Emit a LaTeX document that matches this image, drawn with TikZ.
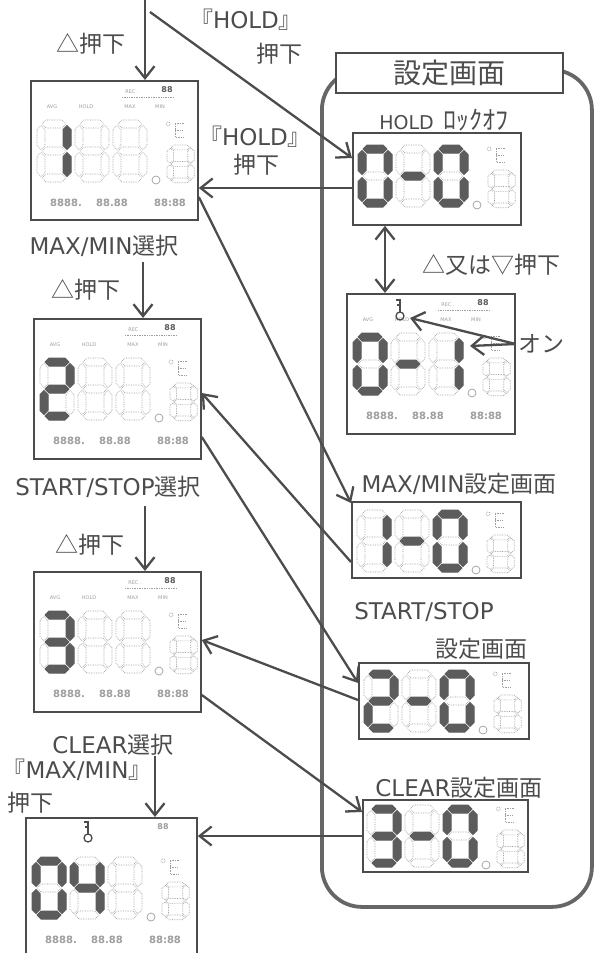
\documentclass[tikz,border=0pt]{standalone}
\usepackage{fontspec}
\setmainfont{DejaVu Sans}
\newfontfamily\jp{Noto Sans CJK JP}
\usetikzlibrary{arrows.meta}

\newlength{\du}
\setlength{\du}{1pt}

\definecolor{inkgray}{rgb}{0.30,0.30,0.30}
\definecolor{framegray}{rgb}{0.40,0.40,0.40}
\definecolor{seggray}{rgb}{0.36,0.36,0.36}
\definecolor{faintgray}{rgb}{0.62,0.62,0.62}

% one segment, drawn around its centre
\newcommand{\segH}{++(-12,0) -- ++(4,-4) -- ++(16,0) -- ++(4,4) -- ++(-4,4) -- ++(-16,0) -- cycle}
\newcommand{\segV}{++(0,-12) -- ++(4,4) -- ++(0,16) -- ++(-4,4) -- ++(-4,-4) -- ++(0,-16) -- cycle}

% seven segments a..g of one digit
\newcommand{\lcddigit}[8]{%
  \begin{scope}[shift={#1}]
    \path[#2] (17,4) \segH;
    \path[#3] (30,17.5) \segV;
    \path[#4] (30,44.5) \segV;
    \path[#5] (17,58) \segH;
    \path[#6] (4,44.5) \segV;
    \path[#7] (4,17.5) \segV;
    \path[#8] (17,31) \segH;
  \end{scope}}

% 0..4, 5 = minus, anything else = blank
\newcommand{\lcdnum}[2]{%
  \ifcase#2\relax
    \lcddigit{#1}{segon}{segon}{segon}{segon}{segon}{segon}{segoff}%
  \or\lcddigit{#1}{segoff}{segon}{segon}{segoff}{segoff}{segoff}{segoff}%
  \or\lcddigit{#1}{segon}{segon}{segoff}{segon}{segon}{segoff}{segon}%
  \or\lcddigit{#1}{segon}{segon}{segon}{segon}{segoff}{segoff}{segon}%
  \or\lcddigit{#1}{segoff}{segon}{segon}{segoff}{segoff}{segon}{segon}%
  \or\lcddigit{#1}{segoff}{segoff}{segoff}{segoff}{segoff}{segoff}{segon}%
  \else\lcddigit{#1}{segoff}{segoff}{segoff}{segoff}{segoff}{segoff}{segoff}%
  \fi}

% three big digits, point, unit mark and the small digit
\newcommand{\lcdface}[4]{%
  \begin{scope}[shift={#1}]
    \lcdnum{(0,0)}{#2}
    \lcdnum{(38,0)}{#3}
    \lcdnum{(76,0)}{#4}
    \draw[segoff, solid] (119,60) circle (4);
    \draw[segoff] (131,4) circle (2);
    \draw[segoff] (147,3) -- (138,3) -- (138,17) -- (147,17) (138,10) -- (145,10);
    \begin{scope}[shift={(130,25)}, xscale=0.8, yscale=0.61]
      \lcdnum{(0,0)}{9}
    \end{scope}
  \end{scope}}

% status line of the big display
\newcommand{\lcdtop}[1]{%
  \node[lcdtiny] (#1-avg) at (22,27) {AVG};
  \node[lcdtiny] (#1-hold) at (56,27) {HOLD};
  \node[lcdtiny] (#1-max) at (100,27) {MAX};
  \node[lcdtiny] (#1-min) at (130,27) {MIN};
  \node[lcdtiny] (#1-rec) at (102,12) {REC .};
  \draw[segoff] (92,17) -- (144,17);
  \node[lcdicon] (#1-ch) at (137,10) {88};}

% clock line of the big display
\newcommand{\lcdfoot}[1]{%
  \node[lcdrow] (#1-d) at (36,123) {8888.};
  \node[lcdrow] (#1-t) at (82,123) {88.88};
  \node[lcdrow] (#1-c) at (140,123) {88:88};}

% key mark
\newcommand{\lcdkey}[1]{%
  \begin{scope}[shift={#1}]
    \draw[inkgray, line width=1.3\du] (-4,-10) -- (0,-10) -- (0,2) (-3,-5) -- (0,-5);
    \draw[inkgray, line width=1.3\du] (0,6) circle (4);
  \end{scope}}

\tikzset{
  >={Straight Barb[length=12pt,width=19pt]},
  panel/.style={draw=inkgray, fill=white, line width=1.8\du, anchor=north west, inner sep=0pt},
  segon/.style={fill=seggray, draw=seggray, line width=1\du, line join=round},
  segoff/.style={draw=faintgray, line width=0.7\du, densely dotted},
  lcdtiny/.style={text=faintgray, font=\fontsize{5}{5}\selectfont, inner sep=0pt},
  lcdicon/.style={text=seggray, font=\fontsize{8}{8}\bfseries, inner sep=0pt},
  lcdrow/.style={text=faintgray, font=\fontsize{10}{10}\bfseries, inner sep=0pt},
  lbl/.style={text=inkgray, font=\fontsize{23}{27}\selectfont, inner sep=0pt},
  arr/.style={draw=inkgray, line width=2.3\du, ->},
  setframe/.style={draw=framegray, line width=3.8\du, rounded corners=40\du, anchor=north west},
  settitle/.style={draw=inkgray, fill=white, line width=1.8\du, font=\fontsize{28}{32}\selectfont\jp,
    text=inkgray, minimum width=227\du, minimum height=40\du},
}

\begin{document}
\begin{tikzpicture}[x=1\du, y=-1\du]
\useasboundingbox (0,0) rectangle (600,953);

% setting group
\node[setframe, minimum width=270\du, minimum height=837\du] (setbox) at (320,68) {};
\node[settitle] (ttl) at (449.5,73) {設定画面};

% displays on the left
\node[panel, minimum width=167\du, minimum height=139\du] (p1) at (30,80) {};
\begin{scope}[shift={(p1.north west)}]
  \lcdtop{p1} \lcdface{(7,40)}{1}{9}{9} \lcdfoot{p1}
\end{scope}
\node[panel, minimum width=167\du, minimum height=140\du] (p2) at (33,318) {};
\begin{scope}[shift={(p2.north west)}]
  \lcdtop{p2} \lcdface{(7,40)}{2}{9}{9} \lcdfoot{p2}
\end{scope}
\node[panel, minimum width=167\du, minimum height=140\du] (p3) at (33,571) {};
\begin{scope}[shift={(p3.north west)}]
  \lcdtop{p3} \lcdface{(7,40)}{3}{9}{9} \lcdfoot{p3}
\end{scope}
\node[panel, minimum width=171\du, minimum height=146\du] (p4) at (25,817) {};
\begin{scope}[shift={(p4.north west)}]
  \lcdkey{(63,15)}
  \node[lcdicon, text=faintgray] (p4-ch) at (138,10) {88};
  \lcdface{(7,40)}{0}{4}{9} \lcdfoot{p4}
\end{scope}

% displays in the setting group
\node[panel, minimum width=168\du, minimum height=92\du] (hold) at (352,132) {};
\begin{scope}[shift={(hold.north west)}]
  \lcdface{(6,13)}{0}{5}{0}
\end{scope}
\node[panel, minimum width=168\du, minimum height=140\du] (p01) at (346,293) {};
\begin{scope}[shift={(p01.north west)}]
  \lcdtop{p01} \lcdkey{(54,17)} \lcdface{(7,40)}{0}{5}{1} \lcdfoot{p01}
\end{scope}
\node[panel, minimum width=169\du, minimum height=76\du] (mm) at (351,501) {};
\begin{scope}[shift={(mm.north west)}]
  \lcdface{(6,9)}{1}{5}{0}
\end{scope}
\node[panel, minimum width=170\du, minimum height=76\du] (ss) at (358,662) {};
\begin{scope}[shift={(ss.north west)}]
  \lcdface{(6,8)}{2}{5}{0}
\end{scope}
\node[panel, minimum width=165\du, minimum height=72\du] (cl) at (362,799) {};
\begin{scope}[shift={(cl.north west)}]
  \lcdface{(5,6)}{3}{5}{0}
\end{scope}

% labels
\node[lbl] (hd1) at (91,44) {\jp △押下};
\node[lbl] (hk1) at (246,20) {{\jp 『}HOLD{\jp 』}};
\node[lbl] (hk1b) at (279,54) {\jp 押下};
\node[lbl, font=\fontsize{19}{22}\selectfont] (holdlbl) at (444,120) {HOLD\hspace{10pt}{\jp\fontsize{26}{26}\selectfont ﾛｯｸｵﾌ}};
\node[lbl] (hk2) at (255,137) {{\jp 『}HOLD{\jp 』}};
\node[lbl] (hk2b) at (256,165) {\jp 押下};
\node[lbl] (sel1) at (104,246) {MAX/MIN{\jp 選択}};
\node[lbl] (hd2) at (86,290) {\jp △押下};
\node[lbl] (updn) at (491,265) {\jp △又は▽押下};
\node[lbl] (lit) at (541,344) {\jp オン};
\node[lbl] (sel2) at (108,487) {START/STOP{\jp 選択}};
\node[lbl] (mmt) at (459,484) {MAX/MIN{\jp 設定画面}};
\node[lbl] (hd3) at (90,545) {\jp △押下};
\node[lbl] (sst1) at (424,612) {START/STOP};
\node[lbl] (sst2) at (481,649) {\jp 設定画面};
\node[lbl] (sel3) at (113,745) {CLEAR{\jp 選択}};
\node[lbl] (mmk) at (77,770) {{\jp 『}MAX/MIN{\jp 』}};
\node[lbl] (mmkb) at (31,803) {\jp 押下};
\node[lbl] (clt) at (459,788) {CLEAR{\jp 設定画面}};

% free ends
\coordinate (upin) at (145,0);
\coordinate (holdin) at (150,12);
\coordinate (down1) at (143,262);
\coordinate (down2) at (145,506);
\coordinate (down3) at (155,756);

% connectors
\draw[arr] (upin) -- (upin |- p1.north);
\draw[arr] (holdin) -- ([yshift=-26\du]hold.north west);
\draw[arr] ([yshift=-56\du]hold.north west) -- ([yshift=-108\du]p1.north east);
\draw[arr, <->] ([xshift=33\du]hold.south west) -- ([xshift=39\du]p01.north west);
\draw[arr] ([xshift=-2\du]lit.west) -- ([xshift=64\du,yshift=-25\du]p01.north west);
\draw[arr] ([xshift=-2\du]lit.west) -- ([xshift=124\du,yshift=-53\du]p01.north west);
\draw[arr] ([yshift=-117\du]p1.north east) -- ([yshift=-2\du]mm.north west);
\draw[arr] (down1) -- (down1 |- p2.north);
\draw[arr] ([yshift=-61\du]mm.north west) -- ([yshift=-75\du]p2.north east);
\draw[arr] ([yshift=-119\du]p2.north east) -- ([yshift=-21\du]ss.north west);
\draw[arr] (down2) -- (down2 |- p3.north);
\draw[arr] ([yshift=-38\du]ss.north west) -- ([yshift=-69\du]p3.north east);
\draw[arr] ([yshift=-124\du]p3.north east) -- ([yshift=-13\du]cl.north west);
\draw[arr] ([yshift=-37\du]cl.north west) -- ([yshift=-19\du]p4.north east);
\draw[arr] (down3) -- (down3 |- p4.north);
\end{tikzpicture}
\end{document}
